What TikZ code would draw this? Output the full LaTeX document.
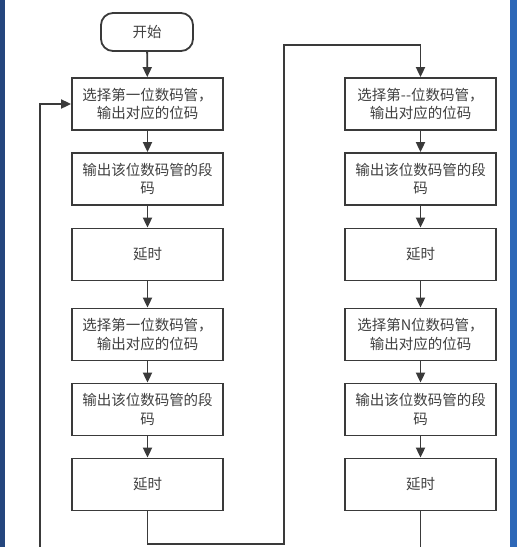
\documentclass[tikz,border=0pt]{standalone}
\usepackage{fontspec}
\usepackage{tikz}
\usetikzlibrary{arrows.meta}
\newfontfamily\cjk{Noto Sans CJK SC}
\definecolor{linegray}{HTML}{3A3A3A}
\definecolor{edgeleft}{HTML}{24467E}
\definecolor{edgeright}{HTML}{2E68B8}
\tikzstyle{stepbox} = [draw=linegray, line width=1.8pt, fill=white, minimum width=151pt, minimum height=52pt, align=center, font=\cjk\fontsize{14.5}{18.5}\selectfont, text=black!75, inner sep=0pt]
\tikzstyle{startbox} = [stepbox, minimum width=92pt, minimum height=38pt, rounded corners=12pt]
\tikzstyle{flow} = [draw=linegray, line width=1.8pt, -{Triangle[length=10pt,width=9pt]}]
\tikzstyle{wire} = [draw=linegray, line width=1.8pt]

\begin{document}
\begin{tikzpicture}[x=1pt,y=-1pt]
	\useasboundingbox (0,0) rectangle (517,547);
	\fill[white] (0,0) rectangle (517,547);
	\fill[edgeleft] (0,0) rectangle (5,547);
	\fill[edgeright] (510,0) rectangle (517,547);
	% left column
	\node[startbox] (start) at (147,32) {开始};
	\node[stepbox] (selA) at (147.5,104) {选择第一位数码管，\\输出对应的位码};
	\node[stepbox] (segA) at (147.5,179) {输出该位数码管的段\\码};
	\node[stepbox] (delA) at (147.5,254.5) {延时};
	\node[stepbox] (selB) at (147.5,334.5) {选择第一位数码管，\\输出对应的位码};
	\node[stepbox] (segB) at (147.5,409.5) {输出该位数码管的段\\码};
	\node[stepbox] (delB) at (147.5,484.5) {延时};
	% right column
	\node[stepbox] (selC) at (420.5,104) {选择第--位数码管，\\输出对应的位码};
	\node[stepbox] (segC) at (420.5,179) {输出该位数码管的段\\码};
	\node[stepbox] (delC) at (420.5,254.5) {延时};
	\node[stepbox] (selN) at (420.5,334.5) {选择第N位数码管，\\输出对应的位码};
	\node[stepbox] (segN) at (420.5,409.5) {输出该位数码管的段\\码};
	\node[stepbox] (delN) at (420.5,484.5) {延时};
	% arrows down each column
	\draw[flow] (start) -- (selA);
	\draw[flow] (selA) -- (segA);
	\draw[flow] (segA) -- (delA);
	\draw[flow] (delA) -- (selB);
	\draw[flow] (selB) -- (segB);
	\draw[flow] (segB) -- (delB);
	\draw[flow] (selC) -- (segC);
	\draw[flow] (segC) -- (delC);
	\draw[flow] (delC) -- (selN);
	\draw[flow] (selN) -- (segN);
	\draw[flow] (segN) -- (delN);
	% jump to right column and loops
	\coordinate (loopIn) at (40,547);
	\coordinate (loopOut) at (420.5,547);
	\draw[flow] (delB.south) -- (147.5,544) -- (284,544) -- (284,45) -- (420.5,45) -- (selC.north);
	\draw[flow] (loopIn) -- (40,104) -- (selA.west);
	\draw[wire] (delN.south) -- (loopOut);
\end{tikzpicture}
\end{document}
